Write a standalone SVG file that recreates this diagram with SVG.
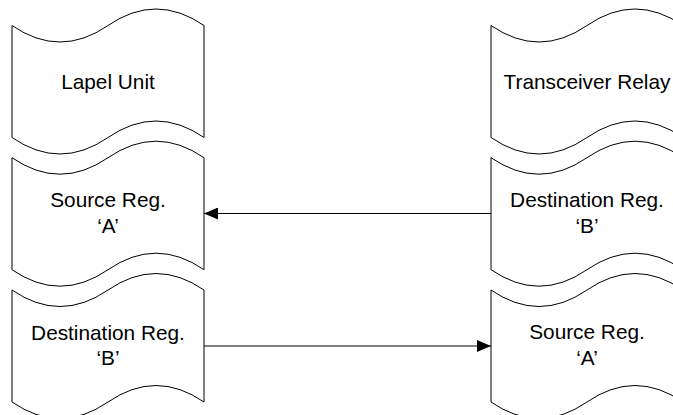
<svg xmlns="http://www.w3.org/2000/svg" xmlns:xlink="http://www.w3.org/1999/xlink" width="673" height="415" viewBox="0 0 673 415">
<style>
.tape{fill:#fff;stroke:#000;stroke-width:1}
.lbl{font-family:"Liberation Sans",Arial,sans-serif;font-size:20.8px;fill:#000;text-anchor:middle}
.conn{stroke:#000;stroke-width:1;fill:none}
</style>
<defs>
<path id="tapeShape" class="tape" d="M0,0 Q48,33 96,0 Q144,-33 192,0 L192,112 Q144,79 96,112 Q48,145 0,112 Z"/>
<marker id="arr" markerWidth="14" markerHeight="12" refX="14" refY="6" orient="auto" markerUnits="userSpaceOnUse">
<path d="M0,0 L14,6 L0,12 Z" fill="#000"/>
</marker>
</defs>
<rect width="673" height="415" fill="#fff"/>
<g id="lapel-unit" transform="translate(12,25.5)">
<use xlink:href="#tapeShape"/>
<text class="lbl" x="96" y="63">Lapel Unit</text>
</g>
<g id="transceiver-relay" transform="translate(491,25.5)">
<use xlink:href="#tapeShape"/>
<text class="lbl" x="96" y="63">Transceiver Relay</text>
</g>
<g id="left-source-reg" transform="translate(12,157.7)">
<use xlink:href="#tapeShape"/>
<text class="lbl" x="96" y="49.3">Source Reg.</text>
<text class="lbl" x="96" y="75.3">‘A’</text>
</g>
<g id="right-destination-reg" transform="translate(491,157.7)">
<use xlink:href="#tapeShape"/>
<text class="lbl" x="96" y="49.3">Destination Reg.</text>
<text class="lbl" x="96" y="75.3">‘B’</text>
</g>
<g id="left-destination-reg" transform="translate(12,290)">
<use xlink:href="#tapeShape"/>
<text class="lbl" x="96" y="49.6">Destination Reg.</text>
<text class="lbl" x="96" y="75.3">‘B’</text>
</g>
<g id="right-source-reg" transform="translate(491,290)">
<use xlink:href="#tapeShape"/>
<text class="lbl" x="96" y="49.3">Source Reg.</text>
<text class="lbl" x="96" y="75.3">‘A’</text>
</g>
<g id="connectors">
<line class="conn" x1="491" y1="213.5" x2="204" y2="213.5" marker-end="url(#arr)"/>
<line class="conn" x1="204" y1="346" x2="491" y2="346" marker-end="url(#arr)"/>
</g>
</svg>
